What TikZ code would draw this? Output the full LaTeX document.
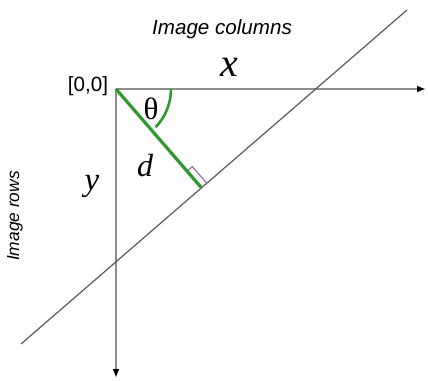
\documentclass[tikz,border=0pt]{standalone}
\usepackage{fontspec}
\setmainfont{Liberation Serif}
\setsansfont{Liberation Sans}
\usetikzlibrary{arrows.meta,positioning,calc}
\definecolor{axisgray}{HTML}{8E8E8E}
\definecolor{linegray}{HTML}{5A5A5A}
\definecolor{distgreen}{HTML}{2E9A2E}
\definecolor{markpurple}{HTML}{8A7A9C}
\tikzset{axis/.style={draw=axisgray,line width=1pt,-{Latex[length=4.5pt,width=3.5pt,color=black]}},
  houghline/.style={draw=linegray,line width=0.6pt},
  normal/.style={draw=distgreen,line width=1.6pt},
  caption/.style={font=\sffamily\itshape\fontsize{10.3}{12}\selectfont,inner sep=0pt},
  symb/.style={font=\itshape,inner sep=0pt}}
\begin{document}
\begin{tikzpicture}[x=0.5pt,y=-0.5pt]
\useasboundingbox (0,0) rectangle (428,380);
\coordinate (O) at (116,89);
\coordinate (xend) at (426,89);
\coordinate (yend) at (116,378);
\coordinate (lineA) at (21,344);
\coordinate (lineB) at (407,10);
\coordinate (F) at ($(lineA)!(O)!(lineB)$);
\coordinate (mp) at ($(F)!11pt!(O)$);
\coordinate (mq) at ($(F)!3.5pt!(lineB)$);
\coordinate (mr) at ($(mp)+(mq)-(F)$);
\draw[axis] (O)--(xend);
\draw[axis] (O)--(yend);
\draw[houghline] (lineA)--(lineB);
\draw[markpurple,line width=0.6pt] (mp)--(mr)--(mq);
\draw[normal] (O)--(F);
\draw[normal,line width=1.3pt] ([shift={(0:55)}]O) arc[start angle=0,end angle=44,radius=55];
\node[caption] (cols) at (222,29) {Image columns};
\node[caption,font=\sffamily\itshape\fontsize{8.7}{10}\selectfont,rotate=90] (rows) at (15,216) {Image rows};
\node[font=\sffamily\fontsize{10.3}{12}\selectfont,inner sep=0pt] (orig) at (88,86) {[0,0]};
\node[symb,font=\itshape\fontsize{20}{20}\selectfont] (xlab) at (229,67) {x};
\node[symb,font=\itshape\fontsize{16.5}{17}\selectfont] (ylab) at (92,186) {y};
\node[symb,font=\itshape\fontsize{16}{16}\selectfont] (dlab) at (145,166) {d};
\node[inner sep=0pt,font=\fontsize{15.5}{16}\selectfont] (theta) at (151,109) {θ};
\end{tikzpicture}
\end{document}
